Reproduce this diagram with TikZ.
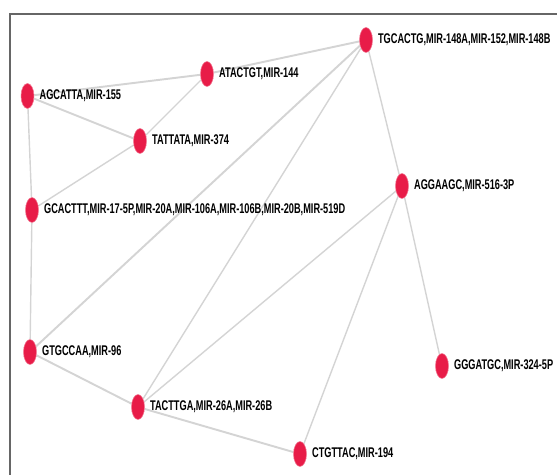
\documentclass[tikz,border=0pt]{standalone}
\usepackage{fontspec}
\usetikzlibrary{shapes.geometric}
\newfontfamily\narrowfont[FakeStretch=0.655]{Liberation Sans}
\definecolor{mirred}{RGB}{232,28,72}
\definecolor{edgegray}{RGB}{212,212,212}
\pgfdeclarelayer{background}
\pgfsetlayers{background,main}
\tikzset{
  mir/.style={ellipse, fill=mirred, draw=mirred!60, line width=0.3pt,
    minimum width=0.26cm, minimum height=0.5cm, inner sep=0pt},
  lbl/.style={font=\narrowfont\bfseries\fontsize{8}{9}\selectfont, inner sep=0pt,
    label distance=0.1cm},
  link/.style={draw=edgegray, line width=1.1pt},
  thinlink/.style={draw=edgegray, line width=0.8pt},
}
\begin{document}
\begin{tikzpicture}[x=0.02cm, y=-0.02cm]
\useasboundingbox (0,0) rectangle (557,475);
% frame
\draw [gray!80!black, line width=1.1pt] (557,14) -- (10,14) -- (10,475);

    \node [mir, label={[lbl]right:AGCATTA,MIR-155}] (agcatta) at (27.5,96) {};
    \node [mir, label={[lbl]right:ATACTGT,MIR-144}] (atactgt) at (207,74) {};
    \node [mir, label={[lbl]right:TATTATA,MIR-374}] (tattata) at (140,141) {};
    \node [mir, label={[lbl]right:TGCACTG,MIR-148A,MIR-152,MIR-148B}] (tgcactg) at (366,40) {};
    \node [mir, label={[lbl]right:GCACTTT,MIR-17-5P,MIR-20A,MIR-106A,MIR-106B,MIR-20B,MIR-519D}] (gcacttt) at (32,210) {};
    \node [mir, label={[lbl]right:AGGAAGC,MIR-516-3P}] (aggaagc) at (402,186) {};
    \node [mir, label={[lbl]right:GTGCCAA,MIR-96}] (gtgccaa) at (30,352) {};
    \node [mir, label={[lbl]right:TACTTGA,MIR-26A,MIR-26B}] (tacttga) at (138,407) {};
    \node [mir, label={[lbl]right:GGGATGC,MIR-324-5P}] (gggatgc) at (442,366) {};
    \node [mir, label={[lbl]right:CTGTTAC,MIR-194}] (ctgttac) at (300,454) {};

\begin{pgfonlayer}{background}
  \draw [link] (agcatta) -- (atactgt);
  \draw [link] (agcatta) -- (tattata);
  \draw [thinlink] (agcatta) -- (gcacttt);
  \draw [thinlink] (atactgt) -- (tattata);
  \draw [link] (atactgt) -- (tgcactg);
  \draw [thinlink] (tattata) -- (gcacttt);
  \draw [thinlink] (gcacttt) -- (gtgccaa);
  \draw [link] (tgcactg) -- (gtgccaa);
  \draw [thinlink] (tgcactg) -- (tacttga);
  \draw [thinlink] (tgcactg) -- (aggaagc);
  \draw [thinlink] (aggaagc) -- (tacttga);
  \draw [thinlink] (aggaagc) -- (ctgttac);
  \draw [thinlink] (aggaagc) -- (gggatgc);
  \draw [link] (gtgccaa) -- (tacttga);
  \draw [link] (tacttga) -- (ctgttac);
\end{pgfonlayer}

\end{tikzpicture}
\end{document}
